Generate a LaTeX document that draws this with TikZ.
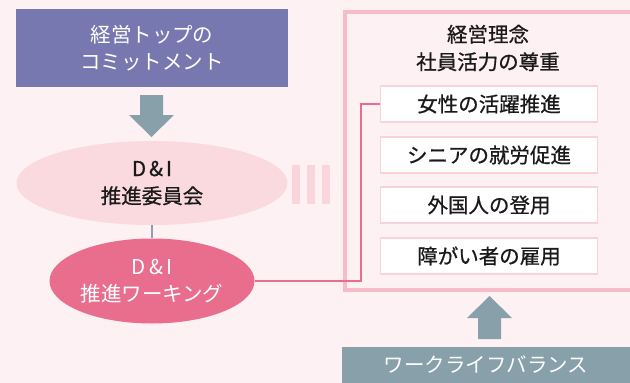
\documentclass[tikz,border=0pt]{standalone}
\usepackage{fontspec}
\setmainfont{Noto Sans CJK JP}
\newfontfamily\medjp[FakeBold=0.7]{Noto Sans CJK JP}
\usetikzlibrary{shapes.geometric}
\definecolor{bg}{HTML}{FEF1F3}
\definecolor{barpink}{HTML}{FBD5DC}
\definecolor{ellpink}{HTML}{FAD9DF}
\definecolor{boxborder}{HTML}{F8BBC9}
\definecolor{itemborder}{HTML}{FAD0D9}
\definecolor{hotpink}{HTML}{E96E8E}
\definecolor{purplebox}{HTML}{7878B1}
\definecolor{grayblue}{HTML}{87A0AA}
\definecolor{ink}{HTML}{1A1A1A}
\newcommand{\dandi}{D\hspace{3pt}\&\hspace{3pt}I}
\tikzset{
  txt/.style={font=\fontsize{20.5}{27.5}\selectfont, align=center, inner sep=0pt},
  darktxt/.style={txt, font=\fontsize{20.5}{27.5}\selectfont\medjp, text=ink},
  topbox/.style={txt, fill=purplebox, text=white, minimum width=272pt, minimum height=78pt},
  ellone/.style={darktxt, ellipse, fill=ellpink, minimum width=271pt, minimum height=84pt},
  elltwo/.style={txt, ellipse, fill=hotpink, text=white, minimum width=205pt, minimum height=85pt},
  itembox/.style={darktxt, fill=white, draw=itemborder, line width=1.5pt, minimum width=217pt, minimum height=36pt},
  bottombox/.style={txt, fill=grayblue, text=white, minimum width=288pt, minimum height=36pt},
  bigarrow/.style={fill=grayblue},
  bar/.style={fill=barpink},
  pinkline/.style={draw=hotpink, line width=1.5pt},
}
\begin{document}
\begin{tikzpicture}[x=1pt,y=-1pt]
\useasboundingbox (0,0) rectangle (630,383);
\fill[bg] (0,0) rectangle (630,383);
% top box
\node[topbox] (top) at (152,48) {経営トップの\\コミットメント};
% down arrow
\fill[bigarrow] (140,95) -- (163,95) -- (163,115) -- (174,115) -- (151.5,137) -- (129,115) -- (140,115) -- cycle;
% ellipses
\node[ellone] (e1) at (152,183) {\dandi\\推進委員会};
\node[elltwo] (e2) at (152,281) {\dandi\\推進ワーキング};
\draw[draw=grayblue, line width=2pt] (e1.south) -- (e2.north);
% bars
\fill[bar] (292,165) rectangle (300,204);
\fill[bar] (307,165) rectangle (315,204);
\fill[bar] (322,165) rectangle (330,204);
% big box
\draw[draw=boxborder, line width=4pt] (345,11.5) rectangle (650,290);
\node[darktxt] (title) at (488,48) {経営理念\\社員活力の尊重};
% items
\node[itembox] (i1) at (489,104) {女性の活躍推進};
\node[itembox] (i2) at (489,155) {シニアの就労促進};
\node[itembox] (i3) at (489,205) {外国人の登用};
\node[itembox] (i4) at (489,256) {障がい者の雇用};
% connector
\coordinate (c) at (361,281);
\draw[pinkline] (e2.east) -- (c) |- (i1.west);
% up arrow
\fill[bigarrow] (478,339) -- (501,339) -- (501,318) -- (512,318) -- (489.5,296) -- (467,318) -- (478,318) -- cycle;
% bottom box
\node[bottombox] (bottom) at (486,365) {ワークライフバランス};
\end{tikzpicture}
\end{document}
